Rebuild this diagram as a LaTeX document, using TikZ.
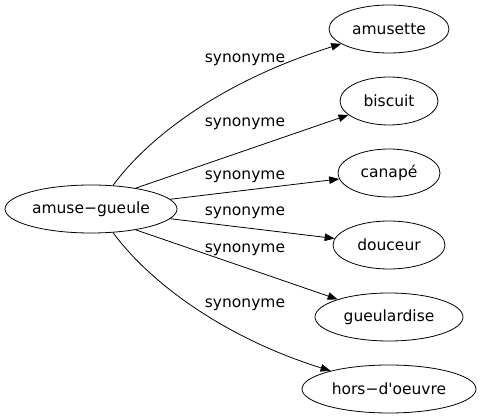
\documentclass[tikz,border=0pt]{standalone}
\usepackage{fontspec}
\newfontfamily\plainfont{DejaVu Sans}
\usetikzlibrary{shapes.geometric,arrows.meta}
\begin{document}
\begin{tikzpicture}[x=1pt,y=-1pt,
  word/.style={draw,ellipse,inner sep=0pt,minimum height=48pt,line width=0.8pt,font=\plainfont\fontsize{15.5}{18}\selectfont},
  lbl/.style={inner sep=0pt,font=\plainfont\fontsize{15.5}{18}\selectfont},
  edge/.style={line width=0.8pt,-{Triangle[length=10pt,width=7.5pt]}}]
\useasboundingbox (0,0) rectangle (482,419);
\node[word,minimum width=172pt] (src) at (91,209) {amuse−gueule};
\node[word,minimum width=120pt] (amusette) at (389,29) {amusette};
\node[word,minimum width=98pt] (biscuit) at (389,101) {biscuit};
\node[word,minimum width=102pt] (canape) at (389,173) {canapé};
\node[word,minimum width=112pt] (douceur) at (389,245) {douceur};
\node[word,minimum width=148pt] (gueulardise) at (389,317) {gueulardise};
\node[word,minimum width=174pt] (hors) at (389,389) {hors−d'oeuvre};
\node[lbl] (l1) at (245,60) {synonyme};
\node[lbl] (l2) at (245,124) {synonyme};
\node[lbl] (l3) at (245,177) {synonyme};
\node[lbl] (l4) at (245,213) {synonyme};
\node[lbl] (l5) at (245,250) {synonyme};
\node[lbl] (l6) at (245,305) {synonyme};
\draw[edge] (src.47.6) .. controls (150,135) and (225,80) .. (amusette);
\draw[edge] (src.25.5) -- (biscuit);
\draw[edge] (src.7) -- (canape);
\draw[edge] (src.-7) -- (douceur);
\draw[edge] (src.-25.5) -- (gueulardise);
\draw[edge] (src.-47.6) .. controls (150,283) and (225,338) .. (hors);
\end{tikzpicture}
\end{document}
